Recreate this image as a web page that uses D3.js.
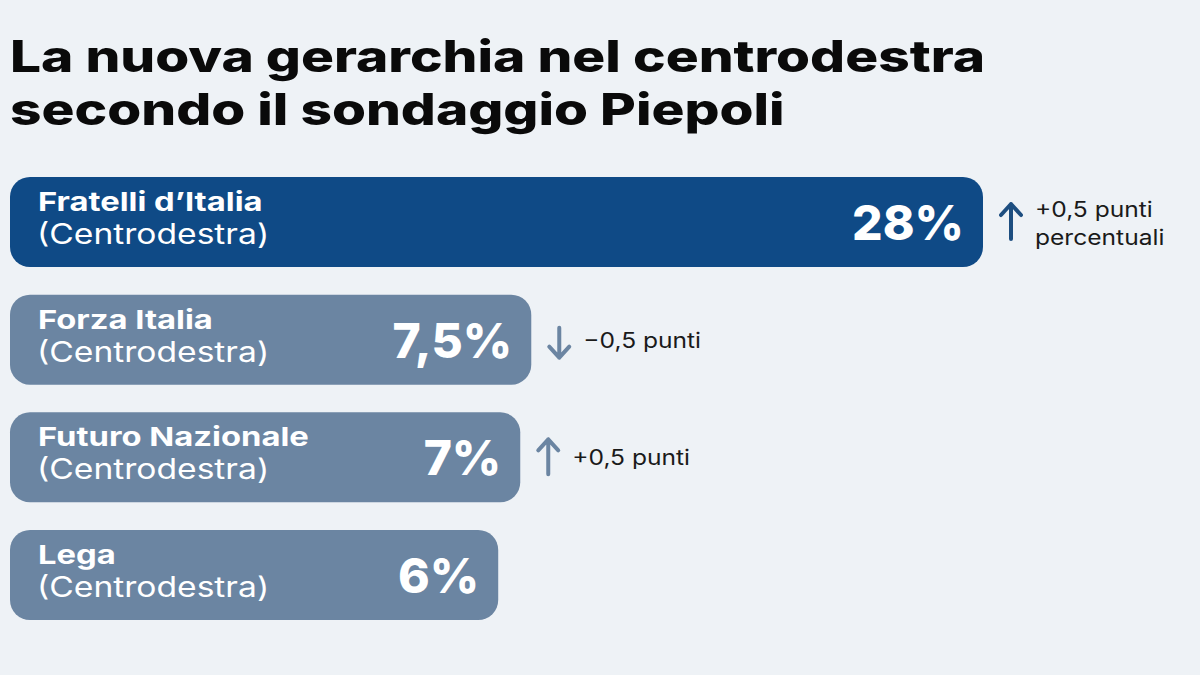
<!DOCTYPE html>
<html>
<head>
<meta charset="utf-8">
<script src="https://cdn.jsdelivr.net/npm/d3@7"></script>
<style>
  body { margin: 0; background: #eef2f6; }
  svg { display: block; font-family: Inter, "Open Sans", sans-serif; }
</style>
</head>
<body>
<svg id="chart" width="1200" height="675"></svg>
<script>
// data
var titleLines = ["La nuova gerarchia nel centrodestra", "secondo il sondaggio Piepoli"];
var parties = ["Fratelli d\u2019Italia", "Forza Italia", "Futuro Nazionale", "Lega"];
var coalitions = ["(Centrodestra)", "(Centrodestra)", "(Centrodestra)", "(Centrodestra)"];
var values = [28, 7.5, 7, 6];
var valueLabels = ["28%", "7,5%", "7%", "6%"];
var changes = [0.5, -0.5, 0.5, 0];
var changeLabels = [["+0,5 punti", "percentuali"], ["\u22120,5 punti"], ["+0,5 punti"], []];

var svg = d3.select("#chart");
var navy = "#0f4a86", slate = "#6b85a2";

// the reference face is wider than the local fonts, stretch text a bit
function widen(sel, k) {
    sel.each(function () {
        var len = this.getComputedTextLength();
        d3.select(this)
            .attr("textLength", len * k)
            .attr("lengthAdjust", "spacingAndGlyphs");
    });
}

svg.append("rect").attr("width", 1200).attr("height", 675).attr("fill", "#eef2f6");

// title, fitted to the reference width
var title = svg.append("g");
title.selectAll("text")
    .data(titleLines)
    .enter()
    .append("text")
    .attr("x", 10)
    .attr("y", function (d, i) { return 72 + i * 53; })
    .attr("font-size", 43.5)
    .attr("font-weight", 800)
    .attr("fill", "#0a0a0a")
    .text(function (d) { return d; });
var w0 = title.select("text").node().getComputedTextLength();
widen(title.selectAll("text"), 975 / w0);

// scales
var x = d3.scaleLinear().domain([0, 28]).range([366, 983]);
var y = d3.scaleBand().domain(parties).range([177, 620]).paddingInner(0.235);

var rows = svg.append("g")
    .selectAll("g")
    .data(parties)
    .enter()
    .append("g")
    .attr("transform", function (d) { return "translate(0," + y(d) + ")"; });

var h = y.bandwidth();

rows.append("rect")
    .attr("x", 10)
    .attr("width", function (d, i) { return x(values[i]) - 10; })
    .attr("height", h)
    .attr("rx", 20)
    .attr("fill", function (d, i) { return i === 0 ? navy : slate; });

var names = rows.append("text")
    .attr("x", 38)
    .attr("y", 34)
    .attr("font-size", 26)
    .attr("font-weight", 700)
    .attr("fill", "#ffffff")
    .text(function (d) { return d; });
widen(names, 1.26);

var subs = rows.append("text")
    .attr("x", 37)
    .attr("y", 67)
    .attr("font-size", 28)
    .attr("font-weight", 400)
    .attr("fill", "#ffffff")
    .text(function (d, i) { return coalitions[i]; });
widen(subs, 1.2);

rows.append("text")
    .attr("x", function (d, i) { return x(values[i]) - 19; })
    .attr("y", h / 2 + 18)
    .attr("text-anchor", "end")
    .attr("font-size", 48)
    .attr("font-weight", 800)
    .attr("fill", "#ffffff")
    .text(function (d, i) { return valueLabels[i]; });

// change arrows and notes
var notes = rows.filter(function (d, i) { return changes[i] !== 0; });

notes.append("path")
    .attr("fill", "none")
    .attr("stroke", function (d) { return parties.indexOf(d) === 0 ? "#1d4e80" : slate; })
    .attr("stroke-width", 4)
    .attr("stroke-linecap", "round")
    .attr("stroke-linejoin", "round")
    .attr("d", function (d) {
        var i = parties.indexOf(d);
        var ax = x(values[i]) + 28, c = h / 2;
        var tip = changes[i] > 0 ? c - 18 : c + 18;
        var tail = changes[i] > 0 ? c + 17 : c - 12;
        var wing = changes[i] > 0 ? tip + 11 : tip - 11;
        return "M" + ax + "," + tail + "L" + ax + "," + tip +
            "M" + (ax - 10) + "," + wing + "L" + ax + "," + tip + "L" + (ax + 10) + "," + wing;
    });

notes.each(function (d) {
    var i = parties.indexOf(d);
    var lines = changeLabels[i];
    var c = h / 2;
    var t = d3.select(this).selectAll("text.note")
        .data(lines)
        .enter()
        .append("text")
        .attr("class", "note")
        .attr("x", x(values[i]) + 52)
        .attr("y", function (t, j) { return lines.length > 1 ? c - 5 + j * 28 : c + 8; })
        .attr("font-size", 21)
        .attr("fill", "#1a1a1a")
        .text(function (t) { return t; });
    widen(t, 1.17);
});
</script>
</body>
</html>
